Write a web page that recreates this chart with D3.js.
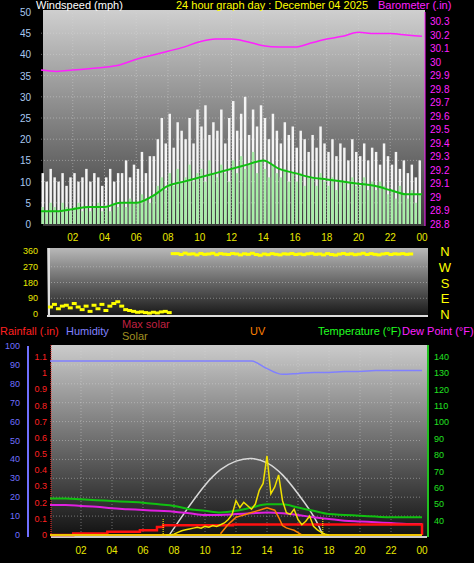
<!DOCTYPE html>
<html>
<head>
<meta charset="utf-8">
<script src="https://cdn.jsdelivr.net/npm/d3@7"></script>
<style>
  body { margin: 0; background: #000; }
  svg { display: block; font-family: "Liberation Sans", Arial, sans-serif; }
</style>
</head>
<body>
<svg id="chart" width="474" height="563"></svg>
<script>
// wind, 15 minute samples (mph)
const gust = [12,10,13,11, 10,12,9,11, 12,10,11,13, 10,12,11,9, 11,13,10,12, 12,15,11,14,
  13,17,12,16, 16,20,25,19, 26,18,24,22, 20,25,19,27, 23,28,21,24, 22,27,19,25,
  29,22,26,30, 21,27,23,28, 25,20,26,22, 19,24,21,23, 18,22,20,17, 21,18,23,19,
  17,20,16,19, 18,15,20,17, 16,19,15,18, 17,14,19,16, 14,17,13,15, 12,14,11,15];
const speed = [4,3,5,4, 3,5,4,3, 4,5,3,4, 3,4,5,3, 4,3,5,4, 5,4,6,5, 5,7,6,5,
  7,9,11,8, 12,9,13,10, 11,14,10,12, 13,10,15,12, 11,14,12,10, 15,12,16,13,
  14,17,12,15, 13,11,14,12, 11,13,10,12, 10,12,9,11, 11,9,12,10, 9,11,8,10,
  10,8,11,9, 9,11,8,10, 8,10,9,7, 8,6,9,7, 6,8,5,7];
// hourly
const avgWind = [3,3,3.5,4,4,5,5,6.5,9,10,11,12,13,14,15,13,12,11,10.5,10,9.5,9,8,7,7];
const baro = [29.94,29.93,29.94,29.95,29.96,29.98,30.02,30.05,30.08,30.11,30.15,30.17,30.17,
  30.15,30.12,30.11,30.11,30.14,30.17,30.19,30.22,30.21,30.21,30.20,30.19];
// direction, 15 minute samples (degrees)
const windDir = [40,55,30,45, 50,35,60,40, 25,45,15,50, 30,55,20,45, 60,70,45,25, 20,15,10,12,
  8,5,10,6, 12,15,8,345, 345,340,348,342, 344,338,346,341, 343,347,339,345, 342,340,346,343,
  338,344,341,347, 340,336,343,339, 345,341,338,344, 342,346,340,343, 339,344,347,341,
  343,338,345,340, 337,342,346,341, 344,339,342,347, 340,345,341,338, 343,346,340,344, 342,345,341,343];
// lower panel, hourly
const temp = [53.5,53.5,53,52.5,52,51.5,51,50,49,47,46,45,46,48,50,50,48,46,44,43.5,43,42.5,42,42,42];
const dew = [49.5,49.5,49,48.5,47.5,47,46.5,46,45.5,44.5,43.5,43.5,44,44.5,45,44.5,43.5,42,41,40,39.5,39,38.5,38,38];
const humidity = [92,92,92,92,92,92,92,92,92,92,92,92,92,92,88,85,85.5,86,86,86.5,86.5,87,87,87,87];
const rainTimes = [0,1.5,3.7,5.8,6.9,7.3,11.8,23.9,24];
const rainValues = [0,0.01,0.02,0.03,0.05,0.06,0.065,0.065,0];
const maxSolarTimes = [7.7,8,9,10,11,12,13,14,15,16,17,17.6];
const maxSolarValues = [0,40,170,290,380,430,445,420,350,240,110,0];
// solar, 15 minutes from 07:30
const solarStart = 7.5;
const solar = [0,0,5,15, 25,30,35,40, 45,40,50,45, 55,50,60,70, 90,120,200,160, 190,170,150,180,
  260,300,460,240, 280,350,200,130, 120,150,90,60, 80,110,50,30, 15,5,0];
// uv, 15 minutes from 11:00
const uvStart = 11;
const uv = [0.1,0.5,0.9,1.2,1.5,1.6,1.7,1.8,1.9,2.0,2.1,2.2,2.3,2.2,2.1,1.5,0.8,0.6,0.5,0.4,0.2,0];
const hourTicks = [2,4,6,8,10,12,14,16,18,20,22,24];
const sunrise = 7.3, sunset = 17.6;

const svg = d3.select('#chart');
const defs = svg.append('defs');
const fmtHour = (h) => d3.format('02')(h % 24);

const panel = (id, x0, x1, y0, y1, c0, c1) => {
  const g = defs.append('linearGradient').attr('id', id).attr('x1', 0).attr('x2', 0).attr('y1', 0).attr('y2', 1);
  g.append('stop').attr('offset', 0).attr('stop-color', c0);
  g.append('stop').attr('offset', 1).attr('stop-color', c1);
  svg.append('rect').attr('x', x0).attr('y', y0).attr('width', x1 - x0).attr('height', y1 - y0)
    .attr('fill', 'url(#' + id + ')');
};
const grid = (xs, ys, x, y) => {
  const gg = svg.append('g').attr('stroke', '#d8d8d8').attr('stroke-opacity', 0.45)
    .attr('stroke-dasharray', '1,2');
  xs.forEach((v) => gg.append('line').attr('x1', x(v)).attr('x2', x(v)).attr('y1', y.range()[0]).attr('y2', y.range()[1]));
  ys.forEach((v) => gg.append('line').attr('x1', x.range()[0]).attr('x2', x.range()[1]).attr('y1', y(v)).attr('y2', y(v)));
};
const text = (x, y, s, color, anchor, size) => svg.append('text').attr('x', x).attr('y', y)
  .attr('fill', color).attr('font-size', size || 11).attr('text-anchor', anchor || 'start').text(s);

// ---------- top: wind + barometer ----------
const x1 = d3.scaleLinear().domain([0, 24]).range([41, 422]);
const yWind = d3.scaleLinear().domain([0, 50]).range([224, 12]);
const yBaro = d3.scaleLinear().domain([28.8, 30.37]).range([224, 12]);
panel('g1', 43, 425, 10, 226, '#cfcfcf', '#3a3a3a');
grid(d3.range(2, 24, 2), d3.range(5, 50, 5), x1, yWind);

const step = 0.25;
svg.append('g').selectAll('rect').data(gust).join('rect')
  .attr('x', (d, i) => x1(i * step) + 0.5).attr('width', x1(step) - x1(0) - 1.5)
  .attr('y', (d) => yWind(d)).attr('height', (d) => yWind(0) - yWind(d)).attr('fill', '#f4f4f4');
svg.append('g').selectAll('rect').data(speed).join('rect')
  .attr('x', (d, i) => x1(i * step) + 0.5).attr('width', x1(step) - x1(0) - 1.5)
  .attr('y', (d) => yWind(d)).attr('height', (d) => yWind(0) - yWind(d)).attr('fill', '#a8f0a8');
svg.append('path').datum(avgWind).attr('fill', 'none').attr('stroke', '#10c010').attr('stroke-width', 2)
  .attr('d', d3.line().x((d, i) => x1(i)).y((d) => yWind(d)).curve(d3.curveMonotoneX));
svg.append('path').datum(baro).attr('fill', 'none').attr('stroke', '#ff20ff').attr('stroke-width', 1.5)
  .attr('d', d3.line().x((d, i) => x1(i)).y((d) => yBaro(d)).curve(d3.curveMonotoneX));

d3.range(0, 51, 5).forEach((v) => text(31, yWind(v) + 4, v, '#a8c8f0', 'end', 10));
d3.range(28.8, 30.35, 0.1).forEach((v) => text(430, yBaro(v) + 4, d3.format('.1~f')(v), '#ff20ff', 'start', 10));
svg.append('line').attr('x1', 425).attr('x2', 425).attr('y1', 12).attr('y2', 226).attr('stroke', '#ff20ff');
hourTicks.forEach((h) => text(x1(h), 241, fmtHour(h), '#e8e800', 'middle', 10));
text(36, 9, 'Windspeed (mph)', '#fff');
text(176, 9, '24 hour graph day : December 04 2025', '#ffff00');
text(378, 9, 'Barometer (.in)', '#ff20ff');

// ---------- middle: wind direction ----------
const x2 = d3.scaleLinear().domain([0, 24]).range([48, 428]);
const yDir = d3.scaleLinear().domain([0, 360]).range([314, 251]);
panel('g2', 47, 428, 248, 317, '#b8b8b8', '#141414');
grid([], [90, 180, 270], x2, yDir);
svg.append('line').attr('x1', 49).attr('x2', 49).attr('y1', 248).attr('y2', 317).attr('stroke', '#ddd').attr('stroke-width', 2);
svg.append('line').attr('x1', 47).attr('x2', 428).attr('y1', 316).attr('y2', 316).attr('stroke', '#ddd').attr('stroke-width', 2);
svg.append('g').selectAll('rect').data(windDir).join('rect')
  .attr('x', (d, i) => x2(i * step)).attr('y', (d) => yDir(d) - 1.5)
  .attr('width', x2(step) - x2(0) + 1).attr('height', 3).attr('fill', '#ffff00');
[0, 90, 180, 270, 360].forEach((v) => text(38, yDir(v) + 3, v, '#e8e800', 'end', 9));
['N', 'E', 'S', 'W', 'N'].forEach((s, i) => text(445, yDir(i * 90) + 5, s, '#ffff00', 'middle', 13));

// ---------- bottom: rain, humidity, solar, uv, temperature ----------
const x3 = d3.scaleLinear().domain([0, 24]).range([50, 422]);
const yHum = d3.scaleLinear().domain([0, 100]).range([535, 346]);
const yRain = d3.scaleLinear().domain([0, 1.1]).range([535, 357]);
const yTemp = d3.scaleLinear().domain([30, 140]).range([537, 357]);
const ySolar = d3.scaleLinear().domain([0, 1100]).range([535, 346]);
const yUv = d3.scaleLinear().domain([0, 16]).range([535, 346]);
panel('g3', 51, 427, 345, 538, '#cbcbcb', '#101010');
grid(d3.range(2, 24, 2), d3.range(10, 100, 10), x3, yHum);

text(0, 335, 'Rainfall (.in)', '#ff2020');
text(66, 335, 'Humidity', '#8080ff');
text(122, 328, 'Max solar', '#c02040');
text(122, 340, 'Solar', '#a09020');
text(250, 335, 'UV', '#ff8000');
text(318, 335, 'Temperature (°F)', '#20ff20');
text(402, 335, 'Dew Point (°F)', '#ff20ff');

svg.append('line').attr('x1', 28).attr('x2', 28).attr('y1', 346).attr('y2', 537).attr('stroke', '#7070ff').attr('stroke-width', 2);
d3.range(0, 101, 10).forEach((v) => text(20, yHum(v) + 3, v, '#7070ff', 'end', 9));
svg.append('line').attr('x1', 51).attr('x2', 51).attr('y1', 345).attr('y2', 537).attr('stroke', '#ff3030').attr('stroke-dasharray', '1,1');
d3.range(0, 1.11, 0.1).forEach((v) => text(47, yRain(v) + 3, d3.format('.1~f')(v), '#ff2020', 'end', 9));
svg.append('line').attr('x1', 428).attr('x2', 428).attr('y1', 345).attr('y2', 537).attr('stroke', '#20c020').attr('stroke-width', 2);
d3.range(40, 141, 10).forEach((v) => text(434, yTemp(v) + 3, v, '#20e020', 'start', 9));
svg.append('line').attr('x1', 51).attr('x2', 427).attr('y1', 537).attr('y2', 537).attr('stroke', '#ccc').attr('stroke-width', 2);
hourTicks.forEach((h) => text(x3(h), 554, fmtHour(h), '#e8e800', 'middle', 10));

const line = (data, xf, yf, color, w, curve) => svg.append('path').datum(data).attr('fill', 'none')
  .attr('stroke', color).attr('stroke-width', w).attr('d', d3.line().x(xf).y(yf).curve(curve || d3.curveMonotoneX));

line(humidity, (d, i) => x3(i), (d) => yHum(d), '#8080ff', 1.5);
line(maxSolarValues, (d, i) => x3(maxSolarTimes[i]), (d) => ySolar(d), '#d8d8d8', 1.5, d3.curveNatural);
line(temp, (d, i) => x3(i), (d) => yTemp(d), '#10c010', 2);
line(dew, (d, i) => x3(i), (d) => yTemp(d), '#e020e0', 2);
line(rainValues, (d, i) => x3(rainTimes[i]), (d) => yRain(d), '#ff1010', 2.5, d3.curveStepAfter);
[sunrise, sunset].forEach((t) => svg.append('line').attr('x1', x3(t)).attr('x2', x3(t)).attr('y1', 519).attr('y2', 535)
  .attr('stroke', '#ffff00').attr('stroke-dasharray', '1,1'));
svg.append('line').attr('x1', x3(0)).attr('x2', x3(24)).attr('y1', yUv(0)).attr('y2', yUv(0)).attr('stroke', '#ff8000').attr('stroke-width', 2);
line(uv, (d, i) => x3(uvStart + i * step), (d) => yUv(d), '#ff8000', 1.5, d3.curveLinear);
svg.append('line').attr('x1', x3(0)).attr('x2', x3(24)).attr('y1', ySolar(0)).attr('y2', ySolar(0)).attr('stroke', '#e8d800').attr('stroke-width', 1.5);
line(solar, (d, i) => x3(solarStart + i * step), (d) => ySolar(d), '#f0e000', 1.5, d3.curveLinear);
</script>
</body>
</html>
